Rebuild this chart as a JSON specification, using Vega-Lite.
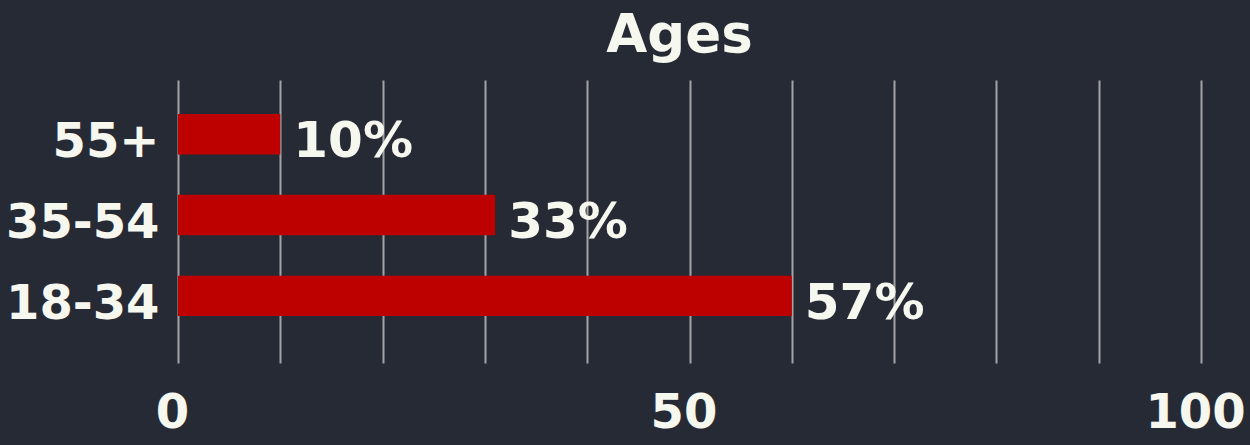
{
  "$schema": "https://vega.github.io/schema/vega-lite/v6.json",
  "width": 1023,
  "height": 283,
  "autosize": {"type": "none"},
  "padding": {"left": 178, "top": 80, "right": 49, "bottom": 82},
  "background": "#262a35",
  "title": {
    "text": "Ages",
    "fontSize": 53,
    "font": "DejaVu Sans",
    "fontWeight": "bold",
    "color": "#f6f7ef",
    "anchor": "middle",
    "frame": "group",
    "offset": 17,
    "dx": -10
  },
  "data": {
    "values": [
      {"age": "55+", "value": 10, "label": "10%"},
      {"age": "35-54", "value": 31, "label": "33%"},
      {"age": "18-34", "value": 60, "label": "57%"}
    ]
  },
  "encoding": {
    "y": {
      "field": "age",
      "type": "nominal",
      "sort": ["55+", "35-54", "18-34"],
      "title": null,
      "scale": {"paddingInner": 0.5, "paddingOuter": 0.5, "align": 0.42},
      "axis": {
        "domain": false,
        "ticks": false,
        "grid": false,
        "labelPadding": 19,
        "labelOffset": 9,
        "labelFont": "DejaVu Sans",
        "labelFontWeight": "bold",
        "labelFontSize": 48,
        "labelColor": "#f6f7ef",
        "labelLimit": 400
      }
    },
    "x": {
      "field": "value",
      "type": "quantitative",
      "scale": {"domain": [0, 100], "nice": false},
      "title": null,
      "axis": {
        "values": [0, 10, 20, 30, 40, 50, 60, 70, 80, 90, 100],
        "labelExpr": "datum.value % 50 === 0 ? datum.label : ''",
        "domain": false,
        "ticks": false,
        "grid": true,
        "gridColor": "#a3a3a3",
        "gridWidth": 2,
        "gridOpacity": 1,
        "labelPadding": 26,
        "labelOffset": -6,
        "labelFlush": false,
        "labelOverlap": false,
        "labelBound": false,
        "labelFont": "DejaVu Sans",
        "labelFontWeight": "bold",
        "labelFontSize": 48,
        "labelColor": "#f6f7ef"
      }
    }
  },
  "layer": [
    {"mark": {"type": "bar", "color": "#bd0000"}},
    {
      "mark": {
        "type": "text",
        "align": "left",
        "baseline": "middle",
        "dx": 13,
        "dy": 8,
        "font": "DejaVu Sans",
        "fontWeight": "bold",
        "fontSize": 50,
        "color": "#f6f7ef"
      },
      "encoding": {"text": {"field": "label"}}
    }
  ],
  "config": {"view": {"stroke": null}}
}
